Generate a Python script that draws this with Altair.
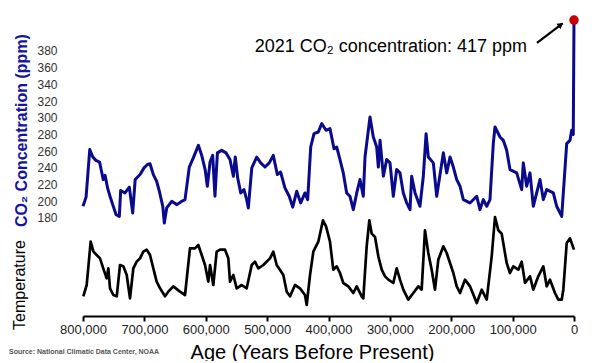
import altair as alt
import pandas as pd

# ---------------- data ----------------
co2_age_kyr = [
    800, 795, 789, 784, 779, 773, 769.6, 767, 764, 760,
    756, 751.6, 746, 740.8, 738.6, 731.6, 724.5, 719, 715, 707,
    700.6, 695, 690.8, 685.4, 680, 675.6, 670, 667.5, 663.6, 655.5,
    647, 639, 633.8, 626.8, 620.3, 612, 606.6, 601, 597.4, 593,
    588.7, 585, 581, 574, 567, 560.5, 555, 551.9, 548, 543,
    537.7, 533.3, 530.6, 525, 517, 510.5, 503.5, 496.5, 490, 483.4,
    478, 471, 464, 458.3, 451.8, 445.3, 438.3, 433.9, 429, 423.6,
    416.6, 411, 404, 397.6, 391, 386.6, 381.3, 375.9, 370.4, 365,
    359.6, 354, 348.7, 343.3, 340.5, 332.4, 327, 321.5, 318.8, 316,
    310.6, 305.2, 299.8, 294.4, 288.9, 283.5, 278.1, 272.6, 267.2, 264.5,
    259, 251, 245.5, 241, 237.4, 229.2, 223.7, 212.9, 207.4, 202,
    196.6, 191.1, 185.7, 180.3, 169.5, 158.5, 153.2, 147.8, 142.2, 136.9,
    131.5, 128.7, 120.6, 115.2, 109.7, 104.3, 93.4, 85.2, 82.6, 77.1,
    71.7, 66.3, 55.4, 50, 44.5, 33.7, 28.2, 20, 11.9, 6.5,
    3.8, 1.2, 0,
]
co2_ppm = [
    194, 205, 262, 253, 249, 247, 235, 226, 231, 216,
    206, 196, 184, 182, 213, 210, 217, 186, 226, 232,
    240, 244, 245, 232, 224, 212, 194, 174, 192, 200,
    196, 200, 202, 241, 252, 267, 255, 238, 218, 247,
    255, 206, 258, 261, 258, 250, 230, 253, 228, 210,
    214, 202, 192, 240, 253, 246, 241, 246, 255, 232,
    235, 216, 206, 193, 212, 198, 210, 202, 265, 281,
    283, 293, 285, 287, 263, 265, 250, 234, 210, 206,
    190, 210, 226, 206, 253, 301, 277, 265, 241, 273,
    230, 250, 246, 206, 238, 234, 210, 198, 190, 230,
    210, 194, 230, 281, 253, 246, 206, 258, 234, 253,
    241, 226, 218, 202, 198, 206, 190, 202, 194, 202,
    269, 289, 277, 273, 261, 238, 234, 214, 246, 218,
    234, 194, 226, 202, 214, 210, 194, 182, 269, 273,
    285, 280, 417,
]

temp_age_kyr = [
    799.5, 794, 787.5, 783, 777.7, 772.3, 767, 761.4, 758.7, 756,
    750.6, 745, 739.7, 734.3, 728.8, 723.4, 718, 712.5, 707.1, 701.7,
    696.2, 690.8, 685.4, 680, 674.5, 666.4, 661, 652.9, 642, 633.8,
    625.7, 617.5, 612.1, 606.6, 601.2, 595.8, 593, 587.7, 582.2, 576.8,
    568.6, 563.2, 560.5, 555.1, 549.6, 541.4, 533.3, 525.1, 519.8, 514.3,
    506.2, 495.3, 489.9, 484.4, 473.6, 468.1, 462.7, 454.6, 446.4, 438.3,
    435.5, 430.1, 424.7, 416.6, 409, 404, 397.6, 392.2, 386.6, 381.3,
    375.9, 367.7, 359.6, 354, 345.9, 343.3, 337.8, 333.5, 329.6, 324.2,
    318.8, 313.3, 307.9, 302.5, 294.4, 288.9, 283.5, 278.1, 270, 261.8,
    253.7, 248.2, 242.8, 237.4, 231.9, 226.5, 221.1, 212.9, 207.4, 202,
    196.6, 191.1, 185.7, 177.6, 169.5, 158.5, 150.4, 142.2, 134.1, 128.7,
    123.3, 117.8, 109.7, 104.3, 98.9, 90.7, 85.2, 79.8, 71.7, 66.3,
    58.2, 50, 44.5, 39.1, 31, 25.6, 20, 17.4, 11.9, 6.5,
    0,
]
temp_anom_c = [
    -8.0, -6.3, 0.2, -1.3, -1.8, -2.3, -3.8, -5.3, -3.8, -6.8,
    -7.8, -8.0, -3.3, -3.5, -4.8, -8.3, -3.8, -2.8, -2.3, -1.3,
    -1.0, -1.8, -3.8, -5.8, -6.8, -8.0, -7.3, -6.5, -7.3, -7.8,
    -0.8, -0.8, -0.3, -1.8, -3.3, -5.8, -3.3, -6.3, -1.3, -1.0,
    -1.0, -2.3, -5.8, -4.8, -6.8, -6.3, -6.8, -3.3, -2.8, -3.8,
    -3.3, -2.3, -1.3, -3.3, -4.8, -7.3, -8.0, -6.3, -6.8, -7.8,
    -9.3, -4.8, -1.3, 0.2, 3.4, 2.5, 0.2, -4.0, -3.5, -4.5,
    -6.0, -6.5, -7.5, -6.5, -8.0, -8.3, -0.5, 3.4, 1.4, 0.9,
    -2.0, -4.0, -5.0, -5.5, -6.0, -3.8, -5.5, -7.0, -8.5, -7.5,
    -6.5, -7.0, 1.9, -1.5, -4.0, -7.0, -2.5, -0.5, -1.5, -3.0,
    -4.5, -6.5, -7.5, -5.5, -6.5, -9.0, -7.0, -8.5, -2.0, 3.9,
    1.9, 1.4, -3.0, -4.5, -3.5, -4.0, -2.8, -6.0, -5.0, -7.0,
    -5.0, -3.5, -6.5, -5.5, -7.5, -8.5, -8.5, -7.0, 0.0, 0.7,
    -1.0,
]

x_tick_values = [800000, 700000, 600000, 500000, 400000, 300000, 200000, 100000, 0]
co2_tick_values = [180, 200, 220, 240, 260, 280, 300, 320, 340, 360, 380]

co2_2021_age = [0]
co2_2021_ppm = [417]
note_text = ["2021 CO\u2082 concentration: 417 ppm"]
note_age_kyr = [76.6]
note_ppm = [385]
arrow_start_kyr = [60.3]
arrow_start_ppm = [389.6]
arrow_end_kyr = [18.5]
arrow_end_ppm = [413.0]
arrow_head_kyr = [21.5]
arrow_head_ppm = [411.4]

assert len(co2_age_kyr) == len(co2_ppm)
assert len(temp_age_kyr) == len(temp_anom_c)

# ---------------- tables ----------------
co2_df = pd.DataFrame({"age": [a * 1000 for a in co2_age_kyr], "ppm": co2_ppm,
                       "i": list(range(len(co2_ppm)))})
temp_df = pd.DataFrame({"age": [a * 1000 for a in temp_age_kyr], "temp": temp_anom_c,
                        "i": list(range(len(temp_anom_c)))})
dot_df = pd.DataFrame({"age": co2_2021_age, "ppm": co2_2021_ppm})
note_df = pd.DataFrame({"age": [a * 1000 for a in note_age_kyr], "ppm": note_ppm, "label": note_text})
arrow_df = pd.DataFrame({"age": [a * 1000 for a in arrow_start_kyr], "ppm": arrow_start_ppm,
                         "age2": [a * 1000 for a in arrow_end_kyr], "ppm2": arrow_end_ppm})
head_df = pd.DataFrame({"age": [a * 1000 for a in arrow_head_kyr], "ppm": arrow_head_ppm})
temp_label_df = pd.DataFrame({"label": ["Temperature"]})
source_df = pd.DataFrame({"label": ["Source: National Climatic Data Center, NOAA"]})

FONT = "Liberation Sans"
BLUE = "#0a0a8e"
TITLE_BLUE = "#1414a0"

x_scale = alt.Scale(domain=[0, 800000], reverse=True, nice=False, zero=False)
co2_scale = alt.Scale(domain=[62.6, 429.1], nice=False, zero=False)
temp_scale = alt.Scale(domain=[-10.95, 34.95], nice=False, zero=False)

x_axis = alt.Axis(
    values=x_tick_values, format=",d", title="Age (Years Before Present)",
    domainColor="black", domainWidth=2, tickColor="black", tickWidth=2, tickSize=5,
    labelFontSize=13, labelColor="#222222", labelFont=FONT, labelPadding=2, labelFlush=False,
    titleFont=FONT, titleFontSize=20, titleFontWeight="normal", titleColor="black",
    titleX=229, titleY=36, titleBaseline="middle", titleAlign="center", grid=False,
)
co2_axis = alt.Axis(
    values=co2_tick_values, domain=False, ticks=False, tickSize=0, labelPadding=26,
    labelFontSize=12, labelColor="#333333", labelFont=FONT, grid=False,
    title="CO\u2082 Concentration (ppm)", titleFont=FONT, titleFontSize=16,
    titleFontWeight="bold", titleColor=TITLE_BLUE, titleAngle=270, titleX=-62, titleY=120,
    titleBaseline="middle", titleAlign="center",
)

X = alt.X("age:Q", scale=x_scale, axis=x_axis)
Y_CO2 = alt.Y("ppm:Q", scale=co2_scale, axis=co2_axis)

co2_line = alt.Chart(co2_df).mark_line(color=BLUE, strokeWidth=3, strokeJoin="round").encode(
    x=X, y=Y_CO2, order="i:Q")

arrow_rule = alt.Chart(arrow_df).mark_rule(color="black", strokeWidth=2.2).encode(
    x=X, y=Y_CO2, x2="age2:Q", y2="ppm2:Q")
arrow_head = alt.Chart(head_df).mark_point(shape="triangle-up", filled=True, color="black",
                                           size=45, angle=53, opacity=1).encode(x=X, y=Y_CO2)
note = alt.Chart(note_df).mark_text(font=FONT, fontSize=18, color="black", align="right",
                                    baseline="middle").encode(x=X, y=Y_CO2, text="label:N")
dot = alt.Chart(dot_df).mark_point(shape="circle", filled=True, color="#c80000", size=90,
                                   opacity=1).encode(x=X, y=Y_CO2)

co2_group = alt.layer(co2_line, arrow_rule, arrow_head, note, dot)

temp_line = alt.Chart(temp_df).mark_line(color="black", strokeWidth=2.7, strokeJoin="round").encode(
    x=X, y=alt.Y("temp:Q", scale=temp_scale, axis=None), order="i:Q")

temp_label = alt.Chart(temp_label_df).mark_text(
    font=FONT, fontSize=16, color="black", angle=270, align="center", baseline="middle"
).encode(x=alt.value(-63), y=alt.value(275), text="label:N")

source = alt.Chart(source_df).mark_text(
    font=FONT, fontSize=7, fontWeight="bold", color="#555555", align="left", baseline="middle"
).encode(x=alt.value(-74), y=alt.value(342), text="label:N")

chart = alt.layer(co2_group, temp_line, temp_label, source).resolve_scale(
    y="independent"
).properties(
    width=491, height=306,
    autosize=alt.AutoSizeParams(type="none"),
    padding={"left": 75, "top": 2, "right": 18, "bottom": 45},
    background="white",
).configure_view(stroke=None)

chart.save("out.html", embed_options={"renderer": "svg", "actions": False})
